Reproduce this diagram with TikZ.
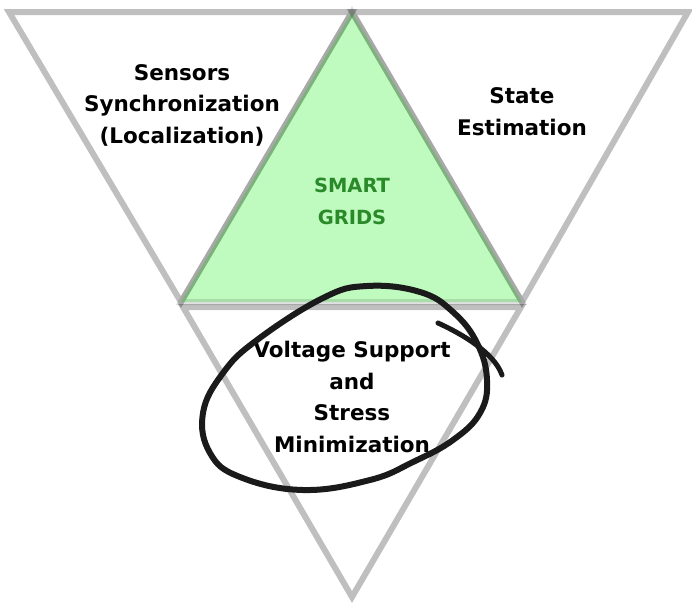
\documentclass[tikz,border=0pt]{standalone}
\usepackage{fontspec}
\setmainfont{DejaVu Sans}
\definecolor{edgegray}{RGB}{0,0,0}
\definecolor{gridfill}{RGB}{0,235,0}
\definecolor{gridtext}{RGB}{42,138,42}
\definecolor{ink}{RGB}{26,26,26}
\begin{document}
\begin{tikzpicture}[x=1pt,y=-1pt,
  tri/.style={draw=edgegray, draw opacity=0.25, line width=6pt, line join=miter},
  core/.style={draw=edgegray, draw opacity=0.12, line width=6pt, line join=miter, fill=gridfill, fill opacity=0.25},
  lbl/.style={font=\fontsize{21.5}{31.5}\selectfont\bfseries, align=center, inner sep=0pt, anchor=base},
  corelbl/.style={lbl, font=\fontsize{19.5}{32}\selectfont\bfseries, text=gridtext},
  loopline/.style={draw=ink, line width=6pt, line cap=round, line join=round}]
\useasboundingbox (0,0) rectangle (692,605);

% the three inverted triangles
\draw[tri] (9,12) -- (352,12) -- (181,302) -- cycle;
\draw[tri] (352,12) -- (688,12) -- (522,302) -- cycle;
\draw[tri] (183,307) -- (521,307) -- (352,597) -- cycle;

% central triangle
\draw[core] (352,12) -- (522,302) -- (181,302) -- cycle;

% labels (anchored at the baseline of their last line)
\node[lbl] (sensors) at (182,143) {Sensors\\Synchronization\\(Localization)};
\node[lbl] (state) at (522,135) {State\\Estimation};
\node[corelbl] (grids) at (352,224) {SMART\\GRIDS};
\node[lbl] (voltage) at (352,452) {Voltage Support\\and\\Stress\\Minimization};

% hand-drawn emphasis loop
\draw[loopline] plot[smooth cycle, tension=0.7] coordinates {
  (367,286) (420,292) (453,312) (477,343) (487,380) (480,413) (453,440)
  (413,462) (370,480) (303,490) (240,477) (210,453) (203,413) (223,373)
  (257,340) (323,298)};
\draw[loopline, line width=5pt] (438,323) .. controls (460,333) and (494,352) .. (502,375);
\end{tikzpicture}
\end{document}
